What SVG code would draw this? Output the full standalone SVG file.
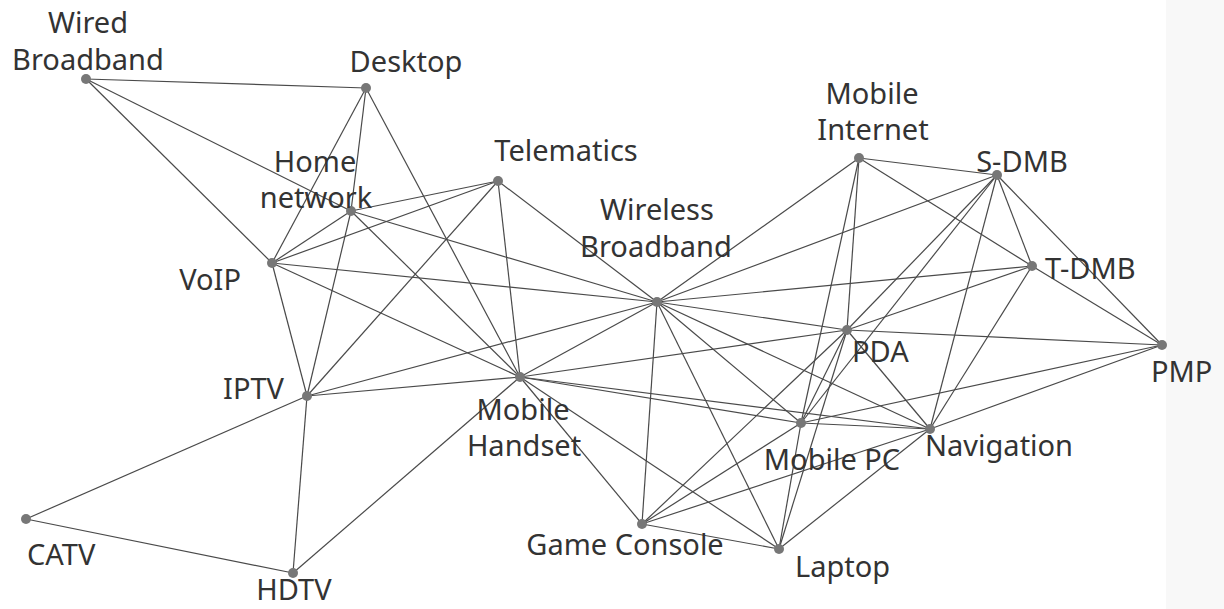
<svg xmlns="http://www.w3.org/2000/svg" width="1224" height="609" viewBox="0 0 1224 609">
<style>
.e{stroke:#4a4a4a;stroke-width:1.2;fill:none}
.n{fill:#777}
.t{font-family:"Noto Sans","Open Sans","Liberation Sans",sans-serif;font-size:29px;fill:#333}
</style>
<rect x="0" y="0" width="1224" height="609" fill="#fff"/>
<rect x="1166" y="0" width="58" height="609" fill="#f8f8f8"/>
<g id="connectors">
<line class="e" x1="86" y1="79" x2="366" y2="88"/>
<line class="e" x1="86" y1="79" x2="351" y2="211"/>
<line class="e" x1="86" y1="79" x2="272" y2="263"/>
<line class="e" x1="366" y1="88" x2="351" y2="211"/>
<line class="e" x1="366" y1="88" x2="272" y2="263"/>
<line class="e" x1="366" y1="88" x2="520" y2="377"/>
<line class="e" x1="351" y1="211" x2="498" y2="181"/>
<line class="e" x1="351" y1="211" x2="272" y2="263"/>
<line class="e" x1="351" y1="211" x2="307" y2="396"/>
<line class="e" x1="351" y1="211" x2="520" y2="377"/>
<line class="e" x1="351" y1="211" x2="657" y2="302"/>
<line class="e" x1="498" y1="181" x2="272" y2="263"/>
<line class="e" x1="498" y1="181" x2="307" y2="396"/>
<line class="e" x1="498" y1="181" x2="520" y2="377"/>
<line class="e" x1="498" y1="181" x2="657" y2="302"/>
<line class="e" x1="272" y1="263" x2="657" y2="302"/>
<line class="e" x1="272" y1="263" x2="520" y2="377"/>
<line class="e" x1="272" y1="263" x2="307" y2="396"/>
<line class="e" x1="307" y1="396" x2="26" y2="519"/>
<line class="e" x1="307" y1="396" x2="293" y2="573"/>
<line class="e" x1="307" y1="396" x2="657" y2="302"/>
<line class="e" x1="307" y1="396" x2="520" y2="377"/>
<line class="e" x1="26" y1="519" x2="293" y2="573"/>
<line class="e" x1="293" y1="573" x2="520" y2="377"/>
<line class="e" x1="520" y1="377" x2="657" y2="302"/>
<line class="e" x1="520" y1="377" x2="847" y2="330"/>
<line class="e" x1="520" y1="377" x2="801" y2="423"/>
<line class="e" x1="520" y1="377" x2="930" y2="429"/>
<line class="e" x1="520" y1="377" x2="642" y2="524"/>
<line class="e" x1="520" y1="377" x2="779" y2="549"/>
<line class="e" x1="657" y1="302" x2="859" y2="158"/>
<line class="e" x1="657" y1="302" x2="997" y2="175"/>
<line class="e" x1="657" y1="302" x2="1032" y2="266"/>
<line class="e" x1="657" y1="302" x2="847" y2="330"/>
<line class="e" x1="657" y1="302" x2="930" y2="429"/>
<line class="e" x1="657" y1="302" x2="801" y2="423"/>
<line class="e" x1="657" y1="302" x2="779" y2="549"/>
<line class="e" x1="657" y1="302" x2="642" y2="524"/>
<line class="e" x1="859" y1="158" x2="997" y2="175"/>
<line class="e" x1="859" y1="158" x2="1032" y2="266"/>
<line class="e" x1="859" y1="158" x2="847" y2="330"/>
<line class="e" x1="859" y1="158" x2="801" y2="423"/>
<line class="e" x1="997" y1="175" x2="1032" y2="266"/>
<line class="e" x1="997" y1="175" x2="1162" y2="345"/>
<line class="e" x1="997" y1="175" x2="847" y2="330"/>
<line class="e" x1="997" y1="175" x2="930" y2="429"/>
<line class="e" x1="997" y1="175" x2="801" y2="423"/>
<line class="e" x1="1032" y1="266" x2="1162" y2="345"/>
<line class="e" x1="1032" y1="266" x2="847" y2="330"/>
<line class="e" x1="1032" y1="266" x2="930" y2="429"/>
<line class="e" x1="847" y1="330" x2="1162" y2="345"/>
<line class="e" x1="847" y1="330" x2="930" y2="429"/>
<line class="e" x1="847" y1="330" x2="801" y2="423"/>
<line class="e" x1="847" y1="330" x2="779" y2="549"/>
<line class="e" x1="847" y1="330" x2="642" y2="524"/>
<line class="e" x1="801" y1="423" x2="1162" y2="345"/>
<line class="e" x1="801" y1="423" x2="930" y2="429"/>
<line class="e" x1="801" y1="423" x2="642" y2="524"/>
<line class="e" x1="801" y1="423" x2="779" y2="549"/>
<line class="e" x1="930" y1="429" x2="1162" y2="345"/>
<line class="e" x1="930" y1="429" x2="642" y2="524"/>
<line class="e" x1="930" y1="429" x2="779" y2="549"/>
<line class="e" x1="642" y1="524" x2="779" y2="549"/>
</g>
<g id="wired-broadband"><circle class="n" cx="86" cy="79" r="5"/><text class="t" x="88" y="33" text-anchor="middle">Wired</text><text class="t" x="88" y="70" text-anchor="middle">Broadband</text></g>
<g id="desktop"><circle class="n" cx="366" cy="88" r="5"/><text class="t" x="406" y="72" text-anchor="middle">Desktop</text></g>
<g id="home-network"><circle class="n" cx="351" cy="211" r="5"/><text class="t" x="315" y="172" text-anchor="middle">Home</text><text class="t" x="316" y="208" text-anchor="middle">network</text></g>
<g id="telematics"><circle class="n" cx="498" cy="181" r="5"/><text class="t" x="566" y="161" text-anchor="middle">Telematics</text></g>
<g id="voip"><circle class="n" cx="272" cy="263" r="5"/><text class="t" x="241" y="290" text-anchor="end">VoIP</text></g>
<g id="wireless-broadband"><circle class="n" cx="657" cy="302" r="5"/><text class="t" x="657" y="220" text-anchor="middle">Wireless</text><text class="t" x="656" y="257" text-anchor="middle">Broadband</text></g>
<g id="mobile-internet"><circle class="n" cx="859" cy="158" r="5"/><text class="t" x="872" y="104" text-anchor="middle">Mobile</text><text class="t" x="873" y="140" text-anchor="middle">Internet</text></g>
<g id="s-dmb"><circle class="n" cx="997" cy="175" r="5"/><text class="t" x="1022" y="172" text-anchor="middle">S-DMB</text></g>
<g id="t-dmb"><circle class="n" cx="1032" cy="266" r="5"/><text class="t" x="1045" y="279">T-DMB</text></g>
<g id="pda"><circle class="n" cx="847" cy="330" r="5"/><text class="t" x="852" y="362">PDA</text></g>
<g id="pmp"><circle class="n" cx="1162" cy="345" r="5"/><text class="t" x="1151" y="382">PMP</text></g>
<g id="iptv"><circle class="n" cx="307" cy="396" r="5"/><text class="t" x="284" y="399" text-anchor="end">IPTV</text></g>
<g id="mobile-handset"><circle class="n" cx="520" cy="377" r="5"/><text class="t" x="523" y="420" text-anchor="middle">Mobile</text><text class="t" x="524" y="456" text-anchor="middle">Handset</text></g>
<g id="mobile-pc"><circle class="n" cx="801" cy="423" r="5"/><text class="t" x="832" y="470" text-anchor="middle">Mobile PC</text></g>
<g id="navigation"><circle class="n" cx="930" cy="429" r="5"/><text class="t" x="925" y="456">Navigation</text></g>
<g id="game-console"><circle class="n" cx="642" cy="524" r="5"/><text class="t" x="625" y="555" text-anchor="middle">Game Console</text></g>
<g id="laptop"><circle class="n" cx="779" cy="549" r="5"/><text class="t" x="795" y="577">Laptop</text></g>
<g id="catv"><circle class="n" cx="26" cy="519" r="5"/><text class="t" x="27" y="565">CATV</text></g>
<g id="hdtv"><circle class="n" cx="293" cy="573" r="5"/><text class="t" x="294" y="600" text-anchor="middle">HDTV</text></g>
</svg>
